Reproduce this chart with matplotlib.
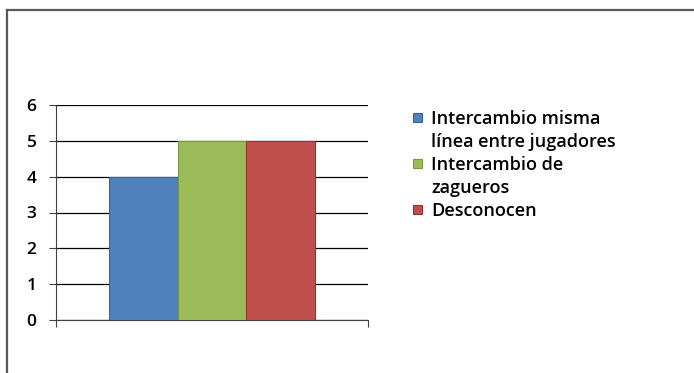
import numpy as np
import matplotlib.pyplot as plt
from matplotlib.patches import Rectangle
from matplotlib.lines import Line2D

series = ["Intercambio misma\nlínea entre jugadores", "Intercambio de\nzagueros", "Desconocen"]
values = [4, 5, 5]
colors = ["#4f81bd", "#9bbb59", "#c0504d"]
edges = ["#3a6595", "#7a9a40", "#943634"]
yticks = [0, 1, 2, 3, 4, 5, 6]

plt.rcParams['font.family'] = ['Open Sans', 'DejaVu Sans']

W, H = 694, 373
fig = plt.figure(figsize=(W / 100, H / 100), dpi=100)

# border only on top and left, like the source screenshot
fig.add_artist(Line2D([6.5 / W, 6.5 / W], [0, 1 - 9.5 / H], color="#5a5a5a", lw=1.6))
fig.add_artist(Line2D([6.5 / W, 1], [1 - 9.5 / H, 1 - 9.5 / H], color="#5a5a5a", lw=1.6))

ax = fig.add_axes([56 / W, 53 / H, 312 / W, 215 / H])
bw = 0.22
offs = (np.arange(len(values)) - (len(values) - 1) / 2) * bw
for i, (v, c, e) in enumerate(zip(values, colors, edges)):
    ax.bar(offs[i], v, width=bw, color=c, edgecolor=e, lw=0.8, zorder=3)

ax.set_xlim(-0.5, 0.5)
ax.set_ylim(0, 6)
ax.set_yticks(yticks)
ax.set_xticks([-0.5, 0.5])
ax.set_xticklabels(["", ""])
ax.yaxis.grid(True, color="black", lw=0.9, zorder=0)
ax.set_axisbelow(True)
for s in ["top", "right"]:
    ax.spines[s].set_visible(False)
ax.spines["left"].set_color("#404040")
ax.spines["bottom"].set_color("#404040")
ax.tick_params(axis="y", length=5, color="#404040", labelsize=12.5, pad=9)
ax.tick_params(axis="x", length=5, color="#404040")
for t in ax.get_yticklabels():
    t.set_fontweight("semibold")

# legend drawn by hand so the swatch sits on the first line of wrapped labels
line_h = 23
y0 = 117
for lab, c, e in zip(series, colors, edges):
    fig.add_artist(Rectangle((413 / W, 1 - (y0 + 4.5) / H), 9 / W, 9 / H,
                             facecolor=c, edgecolor=e, lw=0.8))
    for k, part in enumerate(lab.split("\n")):
        fig.text(431 / W, 1 - (y0 + k * line_h) / H, part, fontsize=13,
                 fontweight="semibold", va="center_baseline", ha="left")
    y0 += line_h * (lab.count("\n") + 1)

fig.savefig("out.png", dpi=100)
